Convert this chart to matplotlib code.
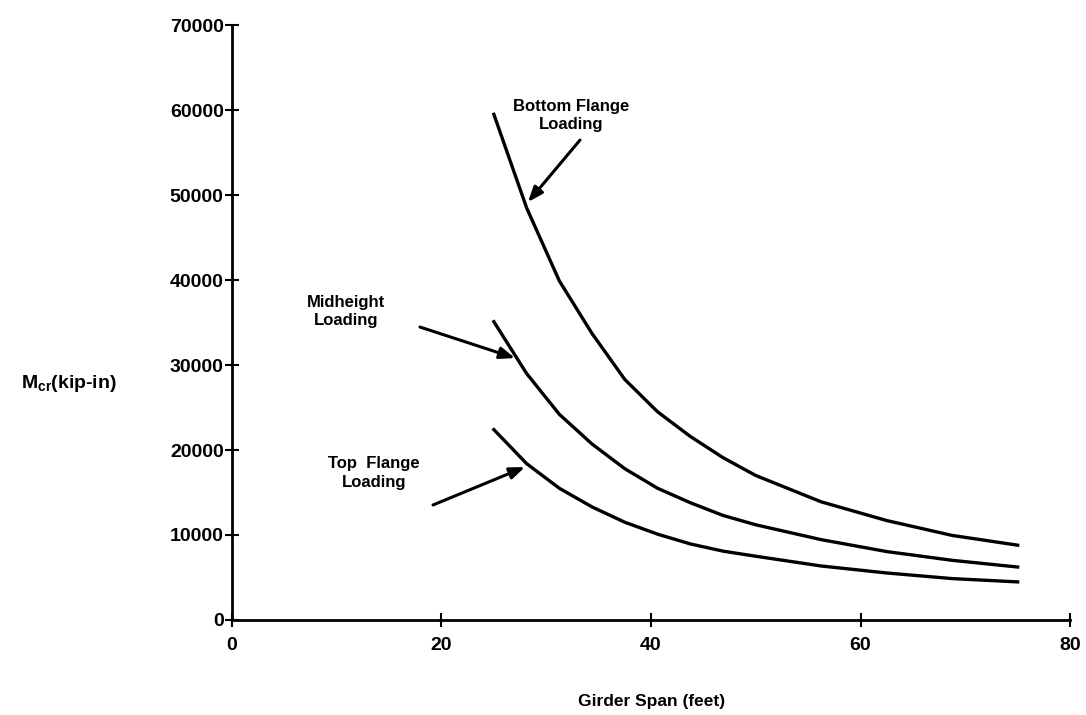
import matplotlib
matplotlib.use("Agg")
import matplotlib.pyplot as plt

plt.rcParams['font.family'] = ['Liberation Sans', 'DejaVu Sans']
plt.rcParams['mathtext.fontset'] = 'custom'
plt.rcParams['mathtext.rm'] = 'Liberation Sans'
plt.rcParams['mathtext.it'] = 'Liberation Sans'
plt.rcParams['mathtext.bf'] = 'Liberation Sans:bold'

# Girder span (feet)
span = [25, 28.125, 31.25, 34.375, 37.5, 40.625, 43.75, 46.875, 50, 56.25, 62.5, 68.75, 75]
# Critical moment M_cr (kip-in)
bottom_flange = [59500, 48500, 39900, 33700, 28300, 24500, 21600, 19100, 17000, 13900, 11700, 9950, 8800]
midheight = [35100, 29000, 24200, 20700, 17800, 15500, 13800, 12300, 11200, 9450, 8050, 7020, 6230]
top_flange = [22400, 18400, 15500, 13300, 11500, 10100, 8950, 8100, 7500, 6350, 5530, 4870, 4480]

x_ticks = [0, 20, 40, 60, 80]
y_ticks = [0, 10000, 20000, 30000, 40000, 50000, 60000, 70000]

fig = plt.figure(figsize=(10.86, 7.15), dpi=100)
ax = fig.add_axes([0.2136, 0.1329, 0.7717, 0.832])

for ys in (bottom_flange, midheight, top_flange):
    ax.plot(span, ys, color='black', lw=2.4)

ax.set_xlim(0, 80)
ax.set_ylim(0, 70000)
ax.set_xticks(x_ticks)
ax.set_yticks(y_ticks)
ax.spines['top'].set_visible(False)
ax.spines['right'].set_visible(False)
for s in ('left', 'bottom'):
    ax.spines[s].set_linewidth(2)
ax.tick_params(direction='inout', length=10, width=1.5, labelsize=14)
ax.tick_params(axis='y', pad=1)
ax.tick_params(axis='x', pad=7)
for lbl in ax.get_xticklabels() + ax.get_yticklabels():
    lbl.set_fontweight('bold')

arrow = dict(arrowstyle='-|>,head_length=0.9,head_width=0.35', lw=2.2, color='black',
             shrinkA=0, shrinkB=0)
tfs = 12
tkw = dict(ha='center', va='center', fontsize=tfs, fontweight='bold', linespacing=1.3)

ax.text(32.36, 59350, 'Bottom Flange\nLoading', **tkw)
ax.annotate('', xy=(28.26, 49180), xytext=(33.22, 56470), arrowprops=arrow)

ax.text(10.88, 36290, 'Midheight\nLoading', **tkw)
ax.annotate('', xy=(27.02, 30820), xytext=(17.95, 34470), arrowprops=arrow)

ax.text(13.56, 17290, 'Top  Flange\nLoading', **tkw)
ax.annotate('', xy=(27.97, 18000), xytext=(19.19, 13530), arrowprops=arrow)

fig.text(0.600, 0.008, 'Girder Span (feet)', ha='center', va='bottom', fontsize=12.5,
         fontweight='bold')
fig.text(0.019, 0.463, r'M$_{\mathbf{cr}}$(kip-in)', ha='left', va='center', fontsize=14,
         fontweight='bold')

fig.savefig('out.png', dpi=100)
